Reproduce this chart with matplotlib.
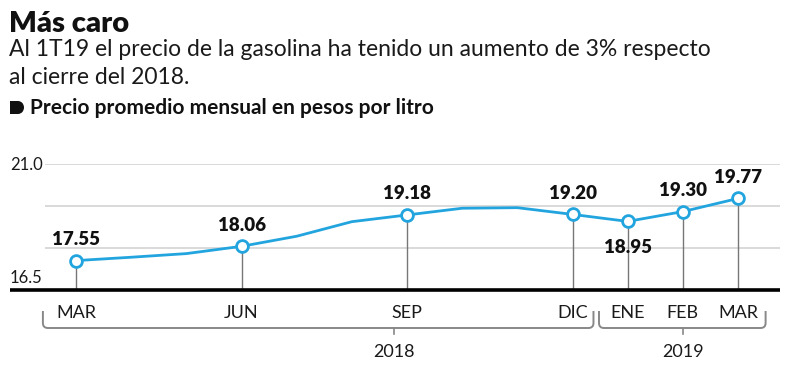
import matplotlib
matplotlib.use("Agg")
import matplotlib.pyplot as plt
from matplotlib import transforms
from matplotlib.path import Path
from matplotlib.patches import PathPatch, Rectangle, Ellipse

# ---- data ----
months = ["MAR", "ABR", "MAY", "JUN", "JUL", "AGO", "SEP", "OCT", "NOV",
          "DIC", "ENE", "FEB", "MAR"]
prices = [17.55, 17.67, 17.80, 18.06, 18.42, 18.94, 19.18, 19.42, 19.44,
          19.20, 18.95, 19.30, 19.77]
labeled_idx = [0, 3, 6, 9, 10, 11, 12]
label_below = [10]
years = ["2018", "2019"]
year_spans = [(-0.6, 9.38), (9.48, 12.5)]
year_ticks = [5.76, 11.0]
yticks = [16.5, 18.0, 19.5, 21.0]
ytick_labels = ["16.5", "", "", "21.0"]

title = "Más caro"
subtitle = ["Al 1T19 el precio de la gasolina ha tenido un aumento de 3% respecto",
            "al cierre del 2018."]
header = "Precio promedio mensual en pesos por litro"

BLUE = "#22a5df"
GRID = "#cfcfcf"
DROP = "#777777"
FONT = "Lato"
TXT = "#1a1a1a"

W, H = 800, 376
fig = plt.figure(figsize=(W / 100, H / 100), dpi=100)
fig.patch.set_facecolor("white")

# axes occupies pixel x 10..780, y 164..290 (from top)
ax = fig.add_axes([10 / W, (H - 290) / H, 770 / W, 126 / H])
xmin, xmax = -1.1964, 12.761
ax.set_xlim(xmin, xmax)
ax.set_ylim(16.5, 21.0)
ax.axis("off")

px = transforms.Affine2D().scale(1 / W, -1 / H).translate(0, 1) + fig.transFigure
xpx = transforms.blended_transform_factory(ax.transData, px)

# gridlines
gx0 = xmin + (45 - 10) / 770 * (xmax - xmin)
ax.hlines(yticks[1:], gx0, xmax, color=GRID, lw=1.1, zorder=1)
# baseline
ax.hlines(16.5, xmin, xmax, color="black", lw=2.6, zorder=4, clip_on=False)

# y tick labels
for v, lab in zip(yticks, ytick_labels):
    if not lab:
        continue
    yb = 170 if v == 21.0 else 283
    fig.text(10, yb, lab, transform=px, fontsize=12, family=FONT,
             weight="normal", color=TXT, va="baseline", ha="left")

# drop lines
xs = list(range(len(prices)))
ax.vlines([xs[i] for i in labeled_idx], 16.5, [prices[i] for i in labeled_idx],
          color=DROP, lw=1.0, zorder=2)

# line + markers
ax.plot(xs, prices, color=BLUE, lw=2.0, zorder=3, solid_joinstyle="round",
        solid_capstyle="round")
ax.plot([xs[i] for i in labeled_idx], [prices[i] for i in labeled_idx],
        ls="none", marker="o", ms=8.5, mfc="white", mec=BLUE, mew=2.0, zorder=5)

# value labels
for i in labeled_idx:
    below = i in label_below
    ax.annotate(f"{prices[i]:.2f}", (xs[i], prices[i]),
                xytext=(0, -13 if below else 9), textcoords="offset points",
                ha="center", va="top" if below else "bottom",
                fontsize=13.5, family=FONT, weight="heavy", color="#111111",
                zorder=6)

# month labels
for i in labeled_idx:
    ax.text(xs[i], 318, months[i], transform=xpx, ha="center", va="baseline",
            fontsize=13, family=FONT, weight="normal", color=TXT)

# year brackets
r = 5 * (xmax - xmin) / 770
for (a, b), c, yl in zip(year_spans, year_ticks, years):
    verts = [(a, 311), (a, 323), (a, 328), (a + r, 328), (b - r, 328),
             (b, 328), (b, 323), (b, 311)]
    codes = [Path.MOVETO, Path.LINETO, Path.CURVE3, Path.CURVE3, Path.LINETO,
             Path.CURVE3, Path.CURVE3, Path.LINETO]
    ax.add_patch(PathPatch(Path(verts, codes), transform=xpx, fill=False,
                           ec="#888888", lw=1.4, clip_on=False))
    ax.plot([c, c], [328, 334], transform=xpx, color="#888888", lw=1.2,
            clip_on=False)
    ax.text(c, 357, yl, transform=xpx, ha="center", va="baseline",
            fontsize=13, family=FONT, weight="normal", color=TXT)

# titles
fig.text(9, 32, title, transform=px, fontsize=21, family=FONT, weight="heavy",
         color="#111111", va="baseline", ha="left")
fig.text(9, 56, subtitle[0], transform=px, fontsize=16.5, family=FONT,
         weight="normal", color=TXT, va="baseline", ha="left")
fig.text(9, 84, subtitle[1], transform=px, fontsize=16.5, family=FONT,
         weight="normal", color=TXT, va="baseline", ha="left")
fig.text(30, 114, header, transform=px, fontsize=15, family=FONT,
         weight="bold", color="#111111", va="baseline", ha="left")
# bullet
fig.add_artist(Rectangle((10 / W, 1 - 114 / H), 8 / W, 13 / H,
                         transform=fig.transFigure, fc="#111111", ec="none"))
fig.add_artist(Ellipse((18 / W, 1 - 107.5 / H), 12 / W, 13 / H,
                       transform=fig.transFigure, fc="#111111", ec="none"))

fig.savefig("out.png", dpi=100, facecolor="white")
